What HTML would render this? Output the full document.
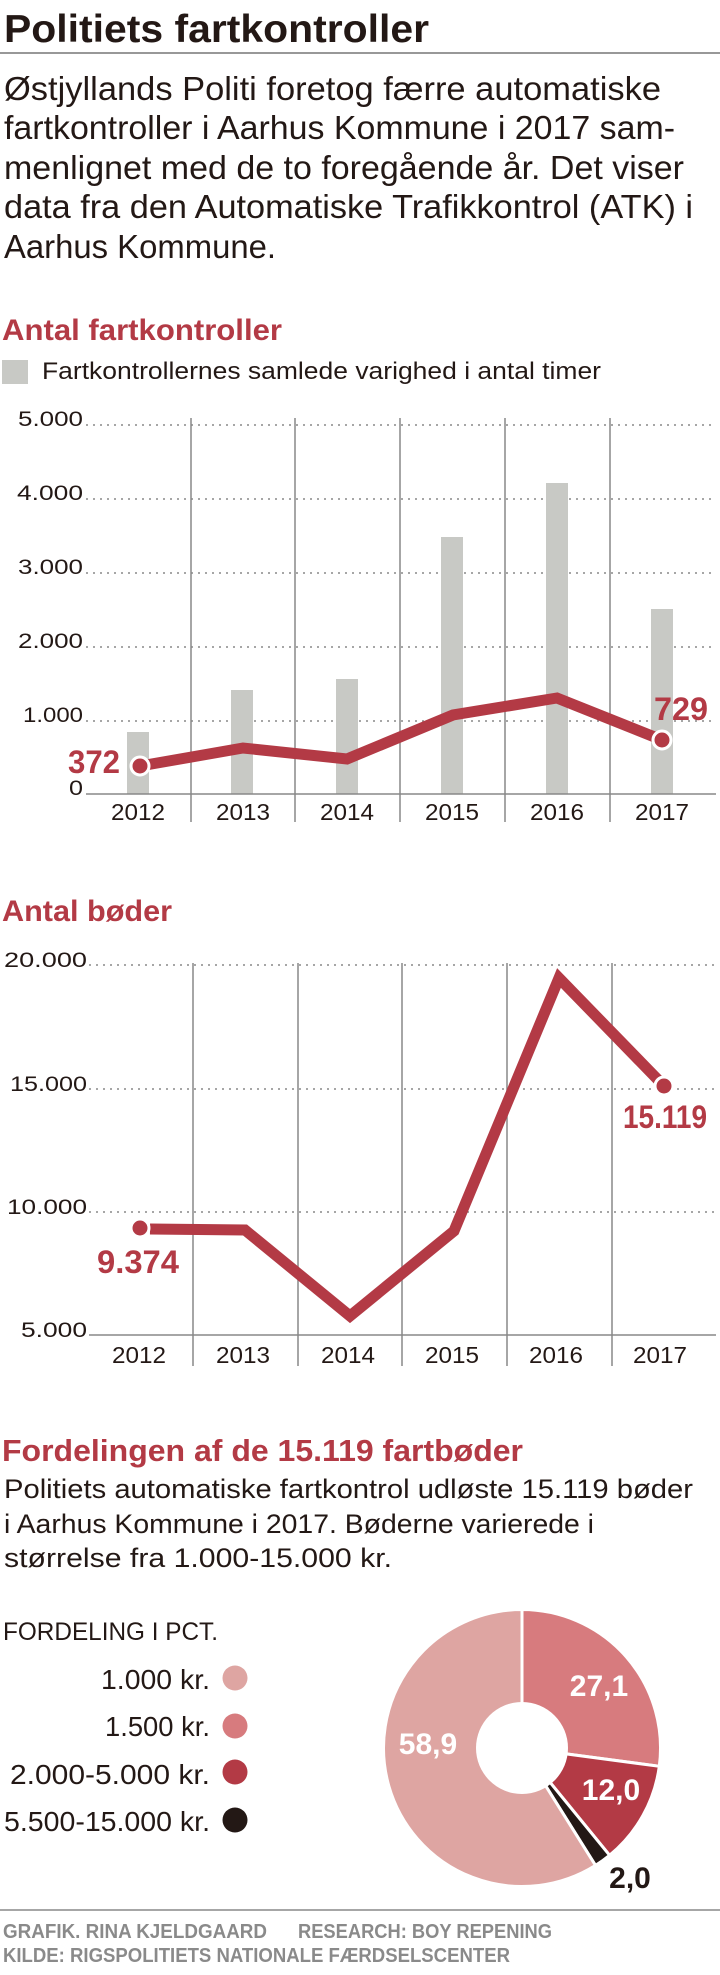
<!DOCTYPE html>
<html><head><meta charset="utf-8"><style>
html,body{margin:0;padding:0;background:#fff;}
svg{display:block;}
text{font-family:"Liberation Sans",sans-serif;}
</style></head><body>
<svg width="720" height="1975" viewBox="0 0 720 1975" xmlns="http://www.w3.org/2000/svg">
<text x="4" y="42" font-size="39" font-weight="bold" fill="#231815" textLength="425" lengthAdjust="spacingAndGlyphs">Politiets fartkontroller</text>
<line x1="0" y1="53" x2="720" y2="53" stroke="#777" stroke-width="1.5"/>
<g font-size="33" fill="#231815">
<text x="4" y="100" textLength="657" lengthAdjust="spacingAndGlyphs">Østjyllands Politi foretog færre automatiske</text>
<text x="4" y="139" textLength="671" lengthAdjust="spacingAndGlyphs">fartkontroller i Aarhus Kommune i 2017 sam-</text>
<text x="4" y="179" textLength="680" lengthAdjust="spacingAndGlyphs">menlignet med de to foregående år. Det viser</text>
<text x="4" y="218" textLength="689" lengthAdjust="spacingAndGlyphs">data fra den Automatiske Trafikkontrol (ATK) i</text>
<text x="4" y="258" textLength="272" lengthAdjust="spacingAndGlyphs">Aarhus Kommune.</text>
</g>

<text x="2" y="340" font-size="30" font-weight="bold" fill="#b33a45" textLength="280" lengthAdjust="spacingAndGlyphs">Antal fartkontroller</text>
<rect x="2" y="360" width="26" height="24" fill="#c8c9c5"/>
<text x="42" y="379" font-size="24" fill="#231815" textLength="559" lengthAdjust="spacingAndGlyphs">Fartkontrollernes samlede varighed i antal timer</text>

<g stroke="#888" stroke-width="1.5">
<line x1="191" y1="418" x2="191" y2="822"/>
<line x1="295" y1="418" x2="295" y2="822"/>
<line x1="400" y1="418" x2="400" y2="822"/>
<line x1="505" y1="418" x2="505" y2="822"/>
<line x1="610" y1="418" x2="610" y2="822"/>
</g>
<g stroke="#888" stroke-width="1.5" stroke-dasharray="2,5">
<line x1="86" y1="425" x2="716" y2="425"/>
<line x1="86" y1="499" x2="716" y2="499"/>
<line x1="86" y1="573" x2="716" y2="573"/>
<line x1="86" y1="647" x2="716" y2="647"/>
<line x1="86" y1="721" x2="716" y2="721"/>
</g>
<g fill="#c8c9c5">
<rect x="127" y="732" width="22" height="62"/>
<rect x="231" y="690" width="22" height="104"/>
<rect x="336" y="679" width="22" height="115"/>
<rect x="441" y="537" width="22" height="257"/>
<rect x="546" y="483" width="22" height="311"/>
<rect x="651" y="609" width="22" height="185"/>
</g>
<line x1="86" y1="794" x2="716" y2="794" stroke="#888" stroke-width="1.5"/>
<g font-size="21" fill="#231815" lengthAdjust="spacingAndGlyphs">
<text x="18" y="426" textLength="65" lengthAdjust="spacingAndGlyphs">5.000</text>
<text x="17" y="500" textLength="66" lengthAdjust="spacingAndGlyphs">4.000</text>
<text x="18" y="574" textLength="65" lengthAdjust="spacingAndGlyphs">3.000</text>
<text x="18" y="648" textLength="65" lengthAdjust="spacingAndGlyphs">2.000</text>
<text x="23" y="722" textLength="60" lengthAdjust="spacingAndGlyphs">1.000</text>
<text x="69" y="795" textLength="14" lengthAdjust="spacingAndGlyphs">0</text>
</g>
<g font-size="23" fill="#231815">
<text x="111" y="820" textLength="54" lengthAdjust="spacingAndGlyphs">2012</text>
<text x="216" y="820" textLength="54" lengthAdjust="spacingAndGlyphs">2013</text>
<text x="320" y="820" textLength="54" lengthAdjust="spacingAndGlyphs">2014</text>
<text x="425" y="820" textLength="54" lengthAdjust="spacingAndGlyphs">2015</text>
<text x="530" y="820" textLength="54" lengthAdjust="spacingAndGlyphs">2016</text>
<text x="635" y="820" textLength="54" lengthAdjust="spacingAndGlyphs">2017</text>
</g>
<polyline points="140,766 243,748 347,759 453,715 557,698 662,740" fill="none" stroke="#b33a45" stroke-width="11" stroke-linejoin="miter"/>
<circle cx="140" cy="766" r="9" fill="#b33a45" stroke="#fff" stroke-width="3"/>
<circle cx="662" cy="740" r="9" fill="#b33a45" stroke="#fff" stroke-width="3"/>
<text x="68" y="773" font-size="32" font-weight="bold" fill="#b33a45" textLength="52" lengthAdjust="spacingAndGlyphs">372</text>
<text x="654" y="720" font-size="32" font-weight="bold" fill="#b33a45" textLength="54" lengthAdjust="spacingAndGlyphs">729</text>

<text x="2" y="921" font-size="30" font-weight="bold" fill="#b33a45" textLength="170" lengthAdjust="spacingAndGlyphs">Antal bøder</text>
<g stroke="#888" stroke-width="1.5">
<line x1="193" y1="963" x2="193" y2="1366"/>
<line x1="298" y1="963" x2="298" y2="1366"/>
<line x1="402" y1="963" x2="402" y2="1366"/>
<line x1="507" y1="963" x2="507" y2="1366"/>
<line x1="612" y1="963" x2="612" y2="1366"/>
</g>
<g stroke="#888" stroke-width="1.5" stroke-dasharray="2,5">
<line x1="89" y1="965" x2="716" y2="965"/>
<line x1="89" y1="1089" x2="716" y2="1089"/>
<line x1="89" y1="1212" x2="716" y2="1212"/>
</g>
<line x1="89" y1="1335" x2="716" y2="1335" stroke="#888" stroke-width="1.5"/>
<g font-size="21" fill="#231815">
<text x="4" y="967" textLength="83" lengthAdjust="spacingAndGlyphs">20.000</text>
<text x="10" y="1091" textLength="77" lengthAdjust="spacingAndGlyphs">15.000</text>
<text x="7" y="1214" textLength="80" lengthAdjust="spacingAndGlyphs">10.000</text>
<text x="21" y="1337" textLength="66" lengthAdjust="spacingAndGlyphs">5.000</text>
</g>
<g font-size="23" fill="#231815">
<text x="112" y="1363" textLength="54" lengthAdjust="spacingAndGlyphs">2012</text>
<text x="216" y="1363" textLength="54" lengthAdjust="spacingAndGlyphs">2013</text>
<text x="321" y="1363" textLength="54" lengthAdjust="spacingAndGlyphs">2014</text>
<text x="425" y="1363" textLength="54" lengthAdjust="spacingAndGlyphs">2015</text>
<text x="529" y="1363" textLength="54" lengthAdjust="spacingAndGlyphs">2016</text>
<text x="633" y="1363" textLength="54" lengthAdjust="spacingAndGlyphs">2017</text>
</g>
<polyline points="150,1229 245,1230 350,1316 454,1231 559,978 664,1086" fill="none" stroke="#b33a45" stroke-width="11" stroke-linejoin="miter"/>
<circle cx="140" cy="1228" r="9" fill="#b33a45" stroke="#fff" stroke-width="3"/>
<circle cx="664" cy="1086" r="9" fill="#b33a45" stroke="#fff" stroke-width="3"/>
<text x="97" y="1273" font-size="32" font-weight="bold" fill="#b33a45" textLength="82" lengthAdjust="spacingAndGlyphs">9.374</text>
<text x="623" y="1128" font-size="32" font-weight="bold" fill="#b33a45" textLength="84" lengthAdjust="spacingAndGlyphs">15.119</text>

<text x="2" y="1461" font-size="31" font-weight="bold" fill="#b33a45" textLength="521" lengthAdjust="spacingAndGlyphs">Fordelingen af de 15.119 fartbøder</text>
<g font-size="27" fill="#231815">
<text x="4" y="1498" textLength="689" lengthAdjust="spacingAndGlyphs">Politiets automatiske fartkontrol udløste 15.119 bøder</text>
<text x="4" y="1533" textLength="590" lengthAdjust="spacingAndGlyphs">i Aarhus Kommune i 2017. Bøderne varierede i</text>
<text x="4" y="1567" textLength="388" lengthAdjust="spacingAndGlyphs">størrelse fra 1.000-15.000 kr.</text>
</g>
<text x="3" y="1640" font-size="25" fill="#231815" textLength="215" lengthAdjust="spacingAndGlyphs">FORDELING I PCT.</text>
<g font-size="28" fill="#231815">
<text x="101" y="1689" textLength="109" lengthAdjust="spacingAndGlyphs">1.000 kr.</text>
<text x="105" y="1736" textLength="105" lengthAdjust="spacingAndGlyphs">1.500 kr.</text>
<text x="10" y="1784" textLength="200" lengthAdjust="spacingAndGlyphs">2.000-5.000 kr.</text>
<text x="4" y="1831" textLength="206" lengthAdjust="spacingAndGlyphs">5.500-15.000 kr.</text>
</g>
<circle cx="235" cy="1678" r="12.5" fill="#dea5a2"/>
<circle cx="235" cy="1726" r="12.5" fill="#d77b7e"/>
<circle cx="235" cy="1772" r="12.5" fill="#b33a45"/>
<circle cx="235" cy="1820" r="12.5" fill="#231815"/>

<g transform="translate(522,1748)" stroke="#fff" stroke-width="3" stroke-linejoin="miter">
<path d="M0,0 L0,-138.5 A138.5,138.5 0 0 1 137.3,18.3 Z" fill="#d77b7e"/>
<path d="M0,0 L137.3,18.3 A138.5,138.5 0 0 1 87.6,107.3 Z" fill="#b33a45"/>
<path d="M0,0 L87.6,107.3 A138.5,138.5 0 0 1 73.5,117.4 Z" fill="#231815"/>
<path d="M0,0 L73.5,117.4 A138.5,138.5 0 1 1 0,-138.5 Z" fill="#dea5a2"/>
<circle cx="0" cy="0" r="46" fill="#fff" stroke="none"/>
</g>
<g font-size="30" font-weight="bold" text-anchor="middle">
<text x="599" y="1696" fill="#fff">27,1</text>
<text x="611" y="1800" fill="#fff">12,0</text>
<text x="428" y="1754" fill="#fff">58,9</text>
<text x="630" y="1888" fill="#231815">2,0</text>
</g>

<line x1="0" y1="1910" x2="720" y2="1910" stroke="#888" stroke-width="1.5"/>
<g font-size="20" font-weight="bold" fill="#8a8a8a">
<text x="3" y="1938" textLength="264" lengthAdjust="spacingAndGlyphs">GRAFIK. RINA KJELDGAARD</text>
<text x="298" y="1938" textLength="254" lengthAdjust="spacingAndGlyphs">RESEARCH: BOY REPENING</text>
<text x="3" y="1962" textLength="507" lengthAdjust="spacingAndGlyphs">KILDE: RIGSPOLITIETS NATIONALE FÆRDSELSCENTER</text>
</g>
</svg>
</body></html>
